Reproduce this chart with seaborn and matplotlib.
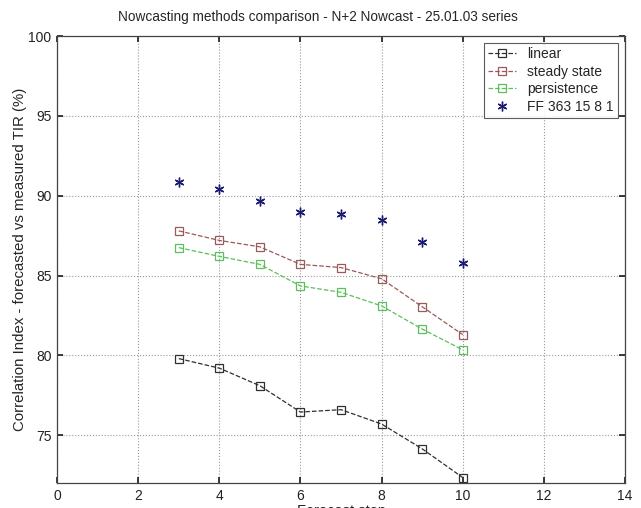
import matplotlib
matplotlib.use("Agg")
import matplotlib.pyplot as plt
import seaborn as sns
import pandas as pd

# forecast step and correlation index (%) for each method
steps = [3, 4, 5, 6, 7, 8, 9, 10]
linear = [79.8, 79.2, 78.1, 76.45, 76.6, 75.7, 74.15, 72.35]
steady_state = [87.8, 87.2, 86.8, 85.7, 85.5, 84.8, 83.05, 81.3]
persistence = [86.75, 86.2, 85.7, 84.35, 83.95, 83.1, 81.65, 80.35]
ff_363 = [90.85, 90.45, 89.7, 89.0, 88.85, 88.5, 87.1, 85.8]

sns.set_theme(style="white")
plt.rcParams["font.family"] = ["Liberation Sans", "DejaVu Sans"]

fig = plt.figure(figsize=(6.41, 5.08), dpi=100)
ax = fig.add_axes([0.089, 0.049, 0.886, 0.88])

df = pd.DataFrame({"step": steps, "linear": linear, "steady state": steady_state,
                   "persistence": persistence, "FF 363 15 8 1": ff_363})

styles = {"linear": "#303030", "steady state": "#9a5a5a", "persistence": "#5cbf5c"}
for name, col in styles.items():
    sns.lineplot(data=df, x="step", y=name, ax=ax, color=col, linestyle="--", lw=0.9,
                 marker="s", markersize=6, markerfacecolor="none", markeredgecolor=col,
                 markeredgewidth=0.9, label=name)

sns.lineplot(data=df, x="step", y="FF 363 15 8 1", ax=ax, linestyle="none",
             marker=(6, 2, 0), markersize=7, markeredgewidth=1.0, color="#1c1c70",
             markeredgecolor="#1c1c70", label="FF 363 15 8 1")

ax.set_xlim(0, 14)
ax.set_ylim(72, 100)
ax.set_xticks(range(0, 15, 2))
ax.set_yticks([75, 80, 85, 90, 95, 100])
ax.grid(True, linestyle=":", color="#999999", lw=0.8)
ax.tick_params(direction="in", length=4, top=True, right=True, labelsize=10,
               colors="#222222", bottom=True, left=True, pad=4)
for s in ax.spines.values():
    s.set_color("#444444")
    s.set_linewidth(0.9)

ax.set_title("Nowcasting methods comparison - N+2 Nowcast - 25.01.03 series",
             fontsize=9.8, pad=11, x=0.46)
ax.set_ylabel("Correlation Index - forecasted vs measured TIR (%)", fontsize=10.8, labelpad=1)
ax.set_xlabel("Forecast step", fontsize=10.5, labelpad=1)

leg = ax.legend(loc="upper right", frameon=True, fancybox=False, fontsize=10,
                borderaxespad=0.5, handlelength=2.0, labelspacing=0.25, borderpad=0.3)
leg.get_frame().set_edgecolor("#333333")
leg.get_frame().set_linewidth(0.8)

fig.savefig("out.png", dpi=100)
